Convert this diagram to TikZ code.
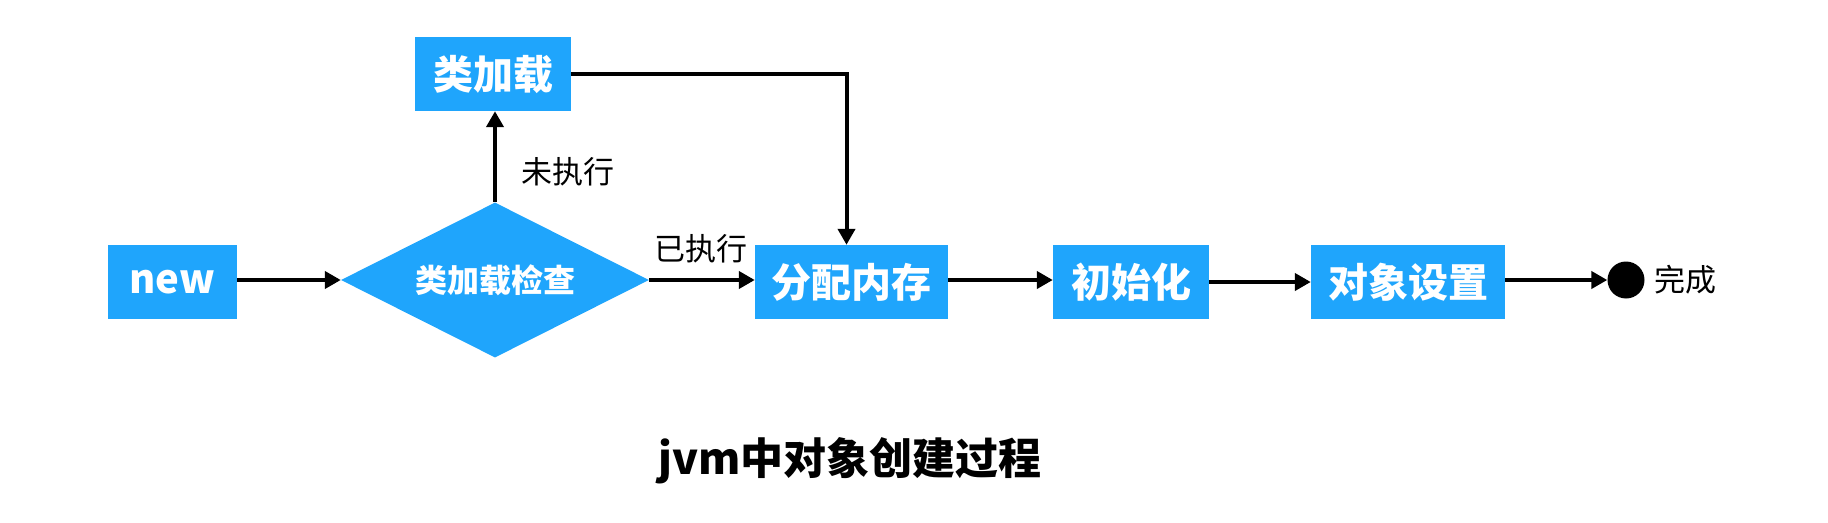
\documentclass[tikz,border=0pt]{standalone}
\usepackage{fontspec}
\setmainfont{Noto Sans CJK SC}
\usetikzlibrary{shapes.geometric,arrows.meta}
\definecolor{boxblue}{HTML}{1FA5FC}
\begin{document}
\begin{tikzpicture}[x=1pt,y=-1pt,
 box/.style={fill=boxblue, text=white, font=\fontsize{40}{44}\selectfont\bfseries, inner sep=0, minimum height=74pt},
 dec/.style={diamond, fill=boxblue, text=white, font=\fontsize{32}{36}\selectfont\bfseries, inner sep=0, minimum width=308pt, minimum height=155pt, shape aspect=2},
 lbl/.style={font=\fontsize{31}{35}\selectfont, text=black},
 conn/.style={line width=4pt, -{Triangle[length=16pt,width=17pt]}},
]
\useasboundingbox (0,0) rectangle (1828,522);
\node[box, minimum width=129pt] (new) at (172.5,282) {new};
\node[dec] (check) at (495,280) {类加载检查};
\node[box, minimum width=156pt] (load) at (493,74) {类加载};
\node[box, minimum width=193pt] (mem) at (851.5,282) {分配内存};
\node[box, minimum width=156pt] (init) at (1131,282) {初始化};
\node[box, minimum width=194pt] (obj) at (1408,282) {对象设置};
\node[circle, fill=black, minimum size=37pt, inner sep=0] (done) at (1626,280) {};
\node[lbl, anchor=west] (donelbl) at (1651,280) {完成};
\node[lbl] (no) at (568,172) {未执行};
\node[lbl] (yes) at (701,249) {已执行};
\node[font=\fontsize{43}{48}\selectfont\bfseries] (title) at (850,461) {jvm中对象创建过程};
\draw[conn] (new.east |- check.west) -- (check.west);
\draw[conn] (check.north) -- (check.north |- load.south);
\draw[conn] (check.east) -- (mem.west |- check.east);
\draw[conn] (load.east) -| ([xshift=-5pt]mem.north);
\draw[conn] (mem.east |- done.west) -- (init.west |- done.west);
\draw[conn] (init.east) -- (obj.west);
\draw[conn] (obj.east |- done.west) -- (done.west);
\end{tikzpicture}
\end{document}
